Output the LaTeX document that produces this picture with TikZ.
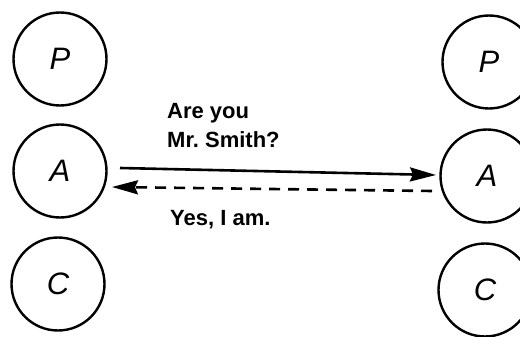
\documentclass[tikz,border=0pt]{standalone}
\usepackage{fontspec}
\setmainfont{Liberation Sans}
\usetikzlibrary{arrows.meta}
\frenchspacing
\begin{document}
\begin{tikzpicture}[x=1pt,y=-1pt,
  party/.style={circle,draw,line width=2.4pt,minimum size=93pt,inner sep=0pt,font=\fontsize{31}{31}\selectfont\itshape},
  msg/.style={anchor=base west,inner sep=0pt,font=\fontsize{22}{22}\selectfont\bfseries},
  link/.style={line width=2.6pt,-{Stealth[length=26pt,width=14pt,inset=3pt]}}]
\clip (0,0) rectangle (520,337);
\useasboundingbox (0,0) rectangle (520,337);
\node[party] (P1) at (60,59) {P};
\node[party] (A1) at (60,171) {A};
\node[party] (C1) at (58,284) {C};
\node[party] (P2) at (489,62) {P};
\node[party] (A2) at (487,176) {A};
\node[party] (C2) at (485,290) {C};
\coordinate (s1) at (120,168);
\coordinate (s2) at (436,175);
\coordinate (d1) at (432,191);
\coordinate (d2) at (112,187);
\draw[link] (s1) -- (s2);
\draw[link,dash pattern=on 11pt off 8pt] (d1) -- (d2);
\node[msg] (q1) at (167,118) {Are you};
\node[msg] (q2) at (167,147) {Mr. Smith?};
\node[msg] (r1) at (170,225) {Yes, I am.};
\end{tikzpicture}
\end{document}
